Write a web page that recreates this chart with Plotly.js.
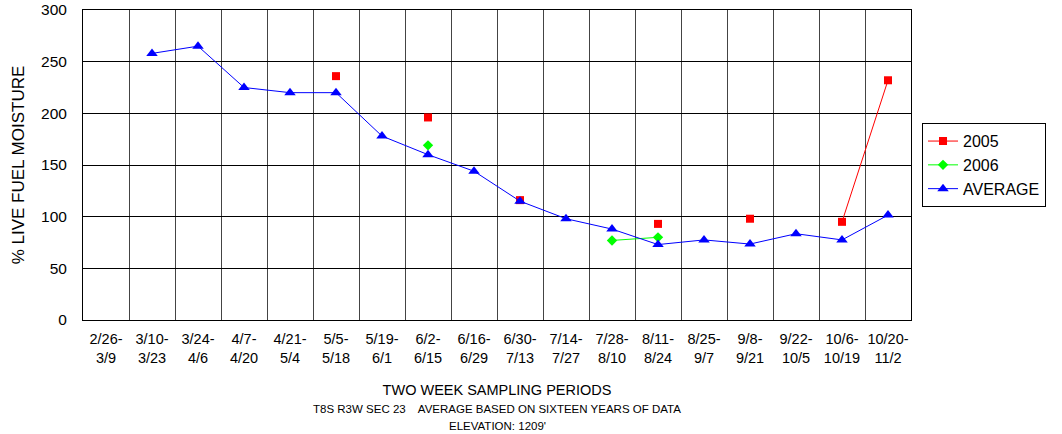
<!DOCTYPE html>
<html><head><meta charset="utf-8">
<script src="https://cdn.plot.ly/plotly-3.0.1.min.js"></script>
<style>html,body{margin:0;padding:0;background:#fff}#chart{width:1062px;height:434px}</style>
</head><body><div id="chart"></div>
<script>
const periods = ["2/26-<br>3/9","3/10-<br>3/23","3/24-<br>4/6","4/7-<br>4/20","4/21-<br>5/4","5/5-<br>5/18","5/19-<br>6/1","6/2-<br>6/15","6/16-<br>6/29","6/30-<br>7/13","7/14-<br>7/27","7/28-<br>8/10","8/11-<br>8/24","8/25-<br>9/7","9/8-<br>9/21","9/22-<br>10/5","10/6-<br>10/19","10/20-<br>11/2"];
const y2005 = [null,null,null,null,null,236,null,196,null,116,null,null,93,null,98,null,95,232];
const y2006 = [null,null,null,null,null,null,null,169,null,null,null,77,80,null,null,null,null,null];
const yAvg  = [null,258,265,225,220,220,178,160,144,115,98,88,73,77.5,73.5,83.5,77.5,101.5];

const font = {family:"Liberation Sans, Arial, sans-serif", color:"#000"};
const f = s => Object.assign({size:s}, font);
const traces = [
  {name:"2005", x:periods, y:y2005, type:"scatter", mode:"lines+markers", connectgaps:false,
   line:{color:"#ff0000", width:1}, marker:{symbol:"square", size:8, color:"#ff0000"}},
  {name:"2006", x:periods, y:y2006, type:"scatter", mode:"lines+markers", connectgaps:false,
   line:{color:"#00ff00", width:1}, marker:{symbol:"diamond", size:8, color:"#00ff00"}},
  {name:"AVERAGE", x:periods, y:yAvg, type:"scatter", mode:"lines+markers", connectgaps:false,
   line:{color:"#0000ff", width:1}, marker:{symbol:"triangle-up", size:10, color:"#0000ff"}}
];
const layout = {
  width:1062, height:434, paper_bgcolor:"#fff", plot_bgcolor:"#fff",
  margin:{l:83, r:151, t:10, b:114},
  font: f(14),
  showlegend:true,
  legend:{x:1.0133, xanchor:"left", y:0.635, yanchor:"top", bgcolor:"#fff", bordercolor:"#000", borderwidth:1,
          font:f(16), tracegroupgap:0, itemwidth:30},
  xaxis:{type:"category", categoryorder:"array", categoryarray:periods, tickson:"boundaries",
         showgrid:true, gridcolor:"#444", gridwidth:1, showline:true, linecolor:"#000", linewidth:1, mirror:true,
         ticks:"", ticklabelstandoff:6, tickangle:0, tickfont:f(14.5), range:[-0.5,17.5], fixedrange:true,
         title:{text:"TWO WEEK SAMPLING PERIODS", font:f(14.5), standoff:19}},
  yaxis:{range:[0,300], dtick:50, showgrid:true, gridcolor:"#000", gridwidth:1, zeroline:false,
         showline:true, linecolor:"#000", linewidth:1, mirror:true, ticks:"", ticklabelstandoff:12,
         tickfont:f(15.5),
         title:{text:"% LIVE FUEL MOISTURE", font:f(17), standoff:12}},
  annotations:[
    {text:"T8S R3W SEC 23    AVERAGE BASED ON SIXTEEN YEARS OF DATA", xref:"paper", yref:"paper", x:0.5, y:-0.287, yanchor:"middle", showarrow:false, font:f(11.5)},
    {text:"ELEVATION: 1209'", xref:"paper", yref:"paper", x:0.5, y:-0.342, yanchor:"middle", showarrow:false, font:f(11.5)}
  ]
};
Plotly.newPlot("chart", traces, layout, {displayModeBar:false, staticPlot:true});
</script></body></html>
